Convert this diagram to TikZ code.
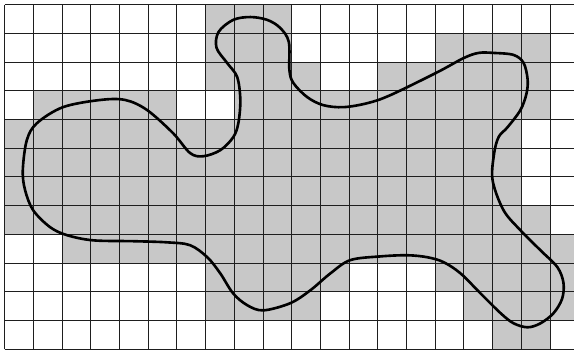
\documentclass[tikz,border=0pt]{standalone}
\usepackage{xcolor}
\usepackage{tikz}

\definecolor{cellfill}{RGB}{200,200,200}
\definecolor{gridcol}{RGB}{30,30,30}

\begin{document}
\begin{tikzpicture}[
  x=1cm, y=-1cm,
  cell/.style={fill=cellfill},
  gridline/.style={draw=gridcol, line width=0.9pt},
  blob/.style={draw=black, line width=2.6pt, line join=round}
]
\clip (-0.164,-0.164) rectangle (19.836,12.08);

% covered cells, row / first column / last column
\foreach \r/\a/\b in {0/7/9, 1/7/9, 1/15/18, 2/7/10, 2/13/18, 3/1/5, 3/8/18,
    4/0/17, 5/0/17, 6/0/17, 7/0/18, 8/2/19, 9/7/11, 9/15/19,
    10/7/10, 10/16/19, 11/17/18}
  \fill[cell] (\a,\r) rectangle (\b+1,\r+1);

\draw[gridline] (0,0) grid (21,12);

% closed outline
\draw[blob] plot[smooth cycle, tension=0.55] coordinates {
  (0.63,5.77) (0.77,4.72) (1.12,4.13) (2.03,3.57) (3.32,3.32) (4.2,3.32)
  (4.96,3.67) (5.87,4.48) (6.46,5.17) (6.92,5.28) (7.51,5.07) (7.96,4.62)
  (8.14,4.13) (8.21,3.32) (8.1,2.52) (7.75,2.03) (7.38,1.5) (7.45,0.95)
  (7.96,0.53) (8.56,0.43) (9.15,0.53) (9.6,0.81) (9.9,1.3) (9.92,2.28)
  (10.06,2.73) (10.54,3.22) (11.1,3.5) (11.8,3.57) (12.64,3.43) (13.44,3.15)
  (15.08,2.35) (15.99,1.86) (16.51,1.68) (17.03,1.68) (17.73,1.75) (18.08,2.03)
  (18.22,2.6) (18.18,3.1) (17.97,3.67) (17.52,4.27) (17.21,4.61) (17.05,5.2)
  (17.0,6.12) (17.38,7.16) (17.97,7.86) (18.67,8.56) (19.26,9.15) (19.47,9.7)
  (19.42,10.25) (19.12,10.75) (18.67,11.1) (18.22,11.24) (17.73,11.1) (17.28,10.75)
  (16.58,10.06) (15.88,9.36) (15.29,8.97) (14.73,8.8) (14.03,8.73) (13.09,8.77)
  (12.04,8.9) (11.35,9.36) (10.65,9.95) (9.95,10.4) (9.01,10.65) (8.45,10.47)
  (7.96,10.06) (7.51,9.36) (7.06,8.8) (6.46,8.38) (5.66,8.28) (4.48,8.24)
  (3.08,8.21) (2.17,8.03) (1.58,7.75) (0.99,7.16) (0.71,6.46)
};
\end{tikzpicture}
\end{document}
